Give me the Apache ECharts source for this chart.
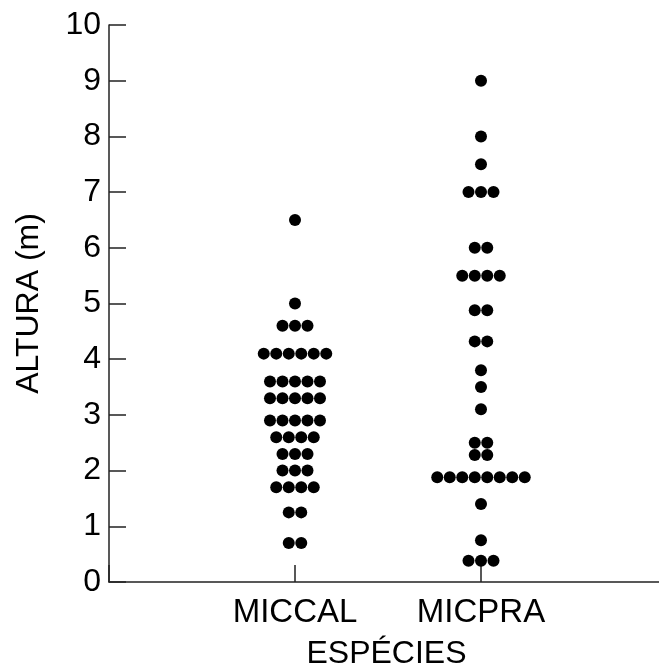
<!DOCTYPE html>
<html>
<head>
<meta charset="utf-8">
<script src="https://cdn.jsdelivr.net/npm/echarts@6/dist/echarts.min.js"></script>
<style>
html,body{margin:0;padding:0;background:#fff;}
#chart{width:659px;height:666px;}
</style>
</head>
<body>
<div id="chart"></div>
<script>
// ---- data ----
const categories = ['MICCAL', 'MICPRA'];
const miccal = [
  6.5,
  5.0,
  4.6, 4.6, 4.6,
  4.1, 4.1, 4.1, 4.1, 4.1, 4.1,
  3.6, 3.6, 3.6, 3.6, 3.6,
  3.3, 3.3, 3.3, 3.3, 3.3,
  2.9, 2.9, 2.9, 2.9, 2.9,
  2.6, 2.6, 2.6, 2.6,
  2.3, 2.3, 2.3,
  2.0, 2.0, 2.0,
  1.7, 1.7, 1.7, 1.7,
  1.25, 1.25,
  0.7, 0.7
];
const micpra = [
  9.0,
  8.0,
  7.5,
  7.0, 7.0, 7.0,
  6.0, 6.0,
  5.5, 5.5, 5.5, 5.5,
  4.88, 4.88,
  4.32, 4.32,
  3.8,
  3.5,
  3.1,
  2.5, 2.5,
  2.28, 2.28,
  1.88, 1.88, 1.88, 1.88, 1.88, 1.88, 1.88, 1.88,
  1.4,
  0.75,
  0.38, 0.38, 0.38
];
const yTickValues = [0, 1, 2, 3, 4, 5, 6, 7, 8, 9, 10];

// ---- layout helpers ----
const DOT_SPACING = 12.5; // px between dot centres in a row
const FONT = "'Liberation Sans', Arial, Helvetica, sans-serif";

function swarm(values, catIndex) {
  const groups = new Map();
  values.forEach(v => {
    if (!groups.has(v)) groups.set(v, 0);
    groups.set(v, groups.get(v) + 1);
  });
  const out = [];
  groups.forEach((n, v) => {
    for (let i = 0; i < n; i++) {
      out.push({
        value: [catIndex + 1, v],
        symbolOffset: [(i - (n - 1) / 2) * DOT_SPACING, 0]
      });
    }
  });
  return out;
}

const chart = echarts.init(document.getElementById('chart'), null, {renderer: 'canvas'});
const axisColor = '#222';
chart.setOption({
  backgroundColor: '#fff',
  animation: false,
  grid: {left: 109, right: 0, top: 25, bottom: 84, containLabel: false, outerBoundsMode: 'none'},
  xAxis: {
    type: 'value',
    min: 0,
    max: 2.957,
    interval: 1,
    name: 'ESPÉCIES',
    nameLocation: 'middle',
    nameGap: 56,
    nameTextStyle: {fontFamily: FONT, fontSize: 32, color: '#000', padding: [0, 0, 0, 5]},
    axisLine: {show: true, onZero: false, lineStyle: {color: axisColor, width: 1.5}},
    axisTick: {show: true, inside: true, length: 17, lineStyle: {color: axisColor, width: 1.5}},
    axisLabel: {
      show: true,
      margin: 14,
      fontFamily: FONT,
      fontSize: 33,
      color: '#000',
      showMaxLabel: false,
      formatter: v => categories[v - 1] || ''
    },
    splitLine: {show: false}
  },
  yAxis: {
    type: 'value',
    min: 0,
    max: 10,
    interval: 1,
    name: 'ALTURA (m)',
    nameLocation: 'middle',
    nameRotate: 90,
    nameGap: 64,
    nameTextStyle: {fontFamily: FONT, fontSize: 32, color: '#000'},
    axisLine: {show: true, onZero: false, lineStyle: {color: axisColor, width: 1.5}},
    axisTick: {show: true, inside: true, length: 17, lineStyle: {color: axisColor, width: 1.5}},
    axisLabel: {
      show: true,
      margin: 8,
      fontFamily: FONT,
      fontSize: 32,
      color: '#000',
      formatter: v => (yTickValues.indexOf(v) >= 0 ? String(v) : '')
    },
    splitLine: {show: false}
  },
  series: [
    {
      name: categories[0],
      type: 'scatter',
      symbol: 'circle',
      symbolSize: 12,
      itemStyle: {color: '#000', opacity: 1},
      data: swarm(miccal, 0)
    },
    {
      name: categories[1],
      type: 'scatter',
      symbol: 'circle',
      symbolSize: 12,
      itemStyle: {color: '#000', opacity: 1},
      data: swarm(micpra, 1)
    }
  ]
});
</script>
</body>
</html>
